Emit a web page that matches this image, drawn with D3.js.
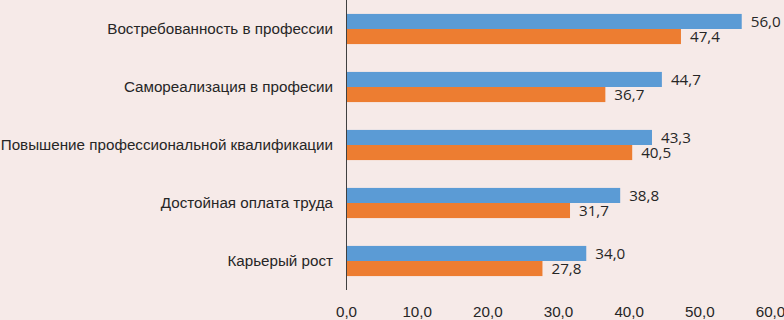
<!DOCTYPE html>
<html>
<head>
<meta charset="utf-8">
<script src="https://cdn.jsdelivr.net/npm/d3@7"></script>
<style>
  body { margin: 0; background: #f6eae8; }
  svg { display: block; font-family: "Open Sans", "Noto Sans", sans-serif; }
  .lbl { fill: #262626; font-size: 15.2px; }
</style>
</head>
<body>
<script>
// categories top to bottom
var categories = [
  'Востребованность в профессии',
  'Самореализация в професии',
  'Повышение профессиональной квалификации',
  'Достойная оплата труда',
  'Карьерый рост'
];
var seriesA = [56.0, 44.7, 43.3, 38.8, 34.0]; // blue
var seriesB = [47.4, 36.7, 40.5, 31.7, 27.8]; // orange
var xTicks = [0, 10, 20, 30, 40, 50, 60];

var colors = ['#5b9bd5', '#ed7d31'];

var w = 784, h = 320;
var margin = {top: 0, left: 346, right: 14, bottom: 30};
var pw = w - margin.left - margin.right,
    ph = h - margin.top - margin.bottom;

var fmt = function (v) { return d3.format('.1f')(v).replace('.', ','); };

var svg = d3.select('body').append('svg')
    .attr('width', w)
    .attr('height', h);

svg.append('rect').attr('width', w).attr('height', h).attr('fill', '#f6eae8');

var g = svg.append('g')
    .attr('transform', 'translate(' + margin.left + ',' + margin.top + ')');

var xScale = d3.scaleLinear().domain([0, 60]).range([0, pw]);
var yScale = d3.scaleBand().domain(categories).range([0, ph]).paddingInner(0.48).paddingOuter(0.24);
var inner = d3.scaleBand().domain([0, 1]).range([0, yScale.bandwidth()]);

var data = [];
categories.forEach(function (c, i) {
  data.push({cat: c, s: 0, v: seriesA[i]});
  data.push({cat: c, s: 1, v: seriesB[i]});
});

g.selectAll('rect.bar')
  .data(data)
  .enter()
  .append('rect')
  .attr('class', 'bar')
  .attr('x', 0)
  .attr('y', function (d) { return yScale(d.cat) + inner(d.s); })
  .attr('width', function (d) { return xScale(d.v); })
  .attr('height', inner.bandwidth())
  .attr('fill', function (d) { return colors[d.s]; });

g.selectAll('text.val')
  .data(data)
  .enter()
  .append('text')
  .attr('class', 'lbl')
  .attr('x', function (d) { return xScale(d.v) + 9; })
  .attr('y', function (d) { return yScale(d.cat) + inner(d.s) + inner.bandwidth() / 2; })
  .attr('dy', '0.35em')
  .text(function (d) { return fmt(d.v); });

// category labels
var yAxis = d3.axisLeft(yScale).tickSize(0).tickPadding(13);
var ya = g.append('g').call(yAxis);
ya.select('.domain').attr('stroke', '#404040').attr('d', 'M0.5,0V' + ph);
ya.selectAll('text').attr('class', 'lbl').attr('font-family', null).attr('font-size', null);

// x axis labels
var xAxis = d3.axisBottom(xScale).tickValues(xTicks).tickSize(0).tickPadding(16).tickFormat(fmt);
var xa = g.append('g').attr('transform', 'translate(0,' + ph + ')').call(xAxis);
xa.select('.domain').remove();
xa.selectAll('text').attr('class', 'lbl').attr('font-family', null).attr('font-size', null);
</script>
</body>
</html>
